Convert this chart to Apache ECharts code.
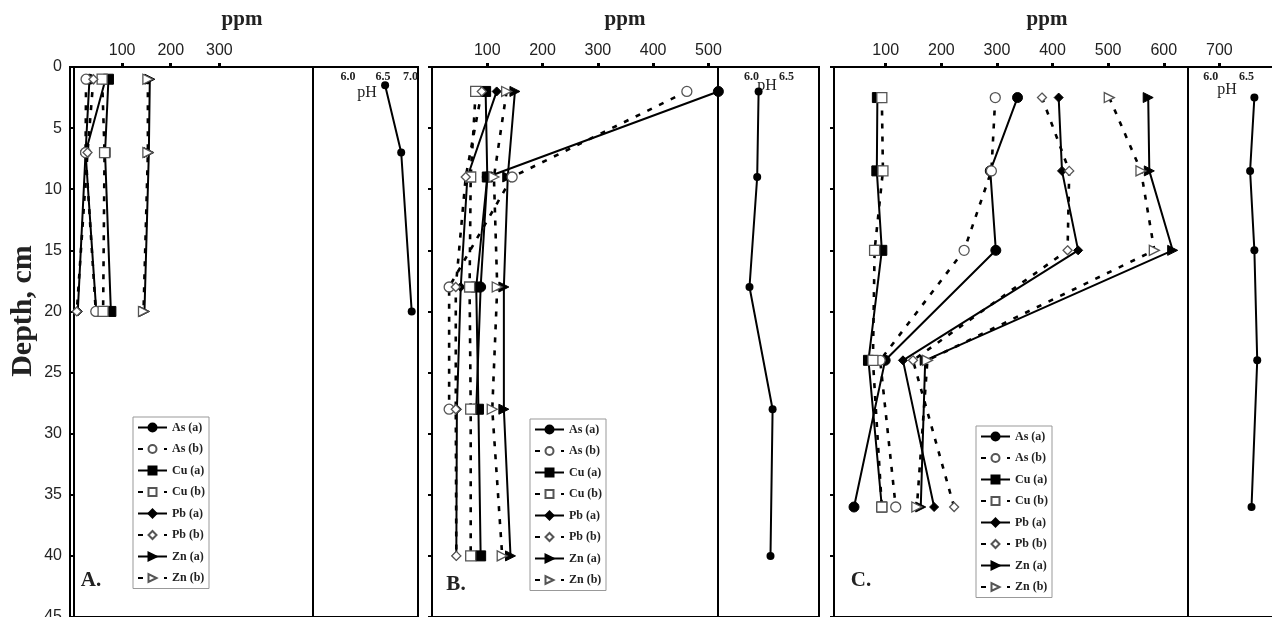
<!DOCTYPE html>
<html><head><meta charset="utf-8">
<script src="https://cdn.jsdelivr.net/npm/echarts@6/dist/echarts.min.js"></script>
<style>html,body{margin:0;padding:0;background:#fff}#c{width:1272px;height:617px}</style>
</head><body><div id="c"></div>
<script>
// ---- categories / labels ----
const metalNames = ['As (a)', 'As (b)', 'Cu (a)', 'Cu (b)', 'Pb (a)', 'Pb (b)', 'Zn (a)', 'Zn (b)'];
const depthTicks = [0, 5, 10, 15, 20, 25, 30, 35, 40, 45];
const ppmTicksA = [100, 200, 300];
const ppmTicksB = [100, 200, 300, 400, 500];
const ppmTicksC = [100, 200, 300, 400, 500, 600, 700];
const phTicksA = [6.0, 6.5, 7.0];
const phTicksB = [6.0, 6.5];
const phTicksC = [6.0, 6.5];

// ---- Panel A ----
const depthA = [1, 7, 20];
const A_As_a = [33, 25, 47];
const A_As_b = [26, 25, 46];
const A_Cu_a = [72, 65, 77];
const A_Cu_b = [59, 64, 61];
const A_Pb_a = [66, 25, 9];
const A_Pb_b = [41, 29, 7];
const A_Zn_a = [157, 155, 146];
const A_Zn_b = [153, 153, 144];
const phDepthA = [1.5, 7, 20];
const A_pH = [6.53, 6.76, 6.91];

// ---- Panel B ----
const depthB = [2, 9, 18, 28, 40];
const B_As_a = [518, 100, 88, 80, null];
const B_As_b = [461, 145, 31, 31, null];
const B_Cu_a = [97, 100, 80, 84, 88];
const B_Cu_b = [79, 70, 68, 70, 70];
const B_Pb_a = [117, 64, 52, 45, 44];
const B_Pb_b = [90, 61, 43, 43, 44];
const B_Zn_a = [150, 137, 130, 130, 142];
const B_Zn_b = [135, 112, 118, 109, 127];
const phDepthB = [2, 9, 18, 28, 40];
const B_pH = [6.10, 6.08, 5.97, 6.30, 6.27];

// ---- Panel C ----
const depthC = [2.5, 8.5, 15, 24, 36];
const C_As_a = [337, 288, 298, 99, 43];
const C_As_b = [297, 290, 241, 90, 118];
const C_Cu_a = [85, 84, 93, 69, 93];
const C_Cu_b = [93, 95, 80, 77, 93];
const C_Pb_a = [411, 417, 446, 131, 187];
const C_Pb_b = [381, 430, 427, 149, 223];
const C_Zn_a = [572, 574, 616, 171, 163];
const C_Zn_b = [502, 559, 583, 175, 156];
const phDepthC = [2.5, 8.5, 15, 24, 36];
const C_pH = [6.61, 6.55, 6.61, 6.65, 6.57];

const SERIF = '"Liberation Serif", "DejaVu Serif", serif';
const SANS = '"Liberation Sans", Arial, sans-serif';

const symbolFor = {As: 'circle', Cu: 'rect', Pb: 'diamond', Zn: 'triangle'};
const sizeFor = {As: 10, Cu: 10, Pb: 9, Zn: 10};

function pairs(xs, ys) {
  const out = [];
  xs.forEach((x, i) => { if (x !== null) out.push([x, ys[i]]); });
  return out;
}

function metalSeries(name, xs, ys, axisIdx) {
  const el = name.slice(0, 2);
  const filled = name.indexOf('(a)') >= 0;
  return {
    type: 'line', name: name, xAxisIndex: axisIdx, yAxisIndex: axisIdx,
    data: pairs(xs, ys),
    symbol: symbolFor[el], symbolSize: sizeFor[el],
    symbolRotate: el === 'Zn' ? -90 : 0,
    showAllSymbol: true,
    lineStyle: {color: '#000', width: filled ? 2 : 2.6, type: filled ? 'solid' : [5, 8]},
    itemStyle: filled ? {color: '#000', borderColor: '#000', borderWidth: 1}
                      : {color: '#fff', borderColor: '#555', borderWidth: 1.3},
    emphasis: {disabled: true},
    z: filled ? 3 : 4
  };
}

function phSeries(xs, ys, axisIdx) {
  return {
    type: 'line', name: 'pH', xAxisIndex: axisIdx, yAxisIndex: axisIdx,
    data: pairs(xs, ys), symbol: 'circle', symbolSize: 8,
    lineStyle: {color: '#000', width: 2}, itemStyle: {color: '#000'},
    emphasis: {disabled: true}
  };
}

const panels = [
  {depth: depthA, vals: [A_As_a, A_As_b, A_Cu_a, A_Cu_b, A_Pb_a, A_Pb_b, A_Zn_a, A_Zn_b], phD: phDepthA, ph: A_pH},
  {depth: depthB, vals: [B_As_a, B_As_b, B_Cu_a, B_Cu_b, B_Pb_a, B_Pb_b, B_Zn_a, B_Zn_b], phD: phDepthB, ph: B_pH},
  {depth: depthC, vals: [C_As_a, C_As_b, C_Cu_a, C_Cu_b, C_Pb_a, C_Pb_b, C_Zn_a, C_Zn_b], phD: phDepthC, ph: C_pH}
];

const series = [];
panels.forEach((p, k) => {
  p.vals.forEach((v, i) => series.push(metalSeries(metalNames[i], v, p.depth, 2 * k)));
  series.push(phSeries(p.ph, p.phD, 2 * k + 1));
});

const gridBox = (l, w) => ({left: l, top: 67, width: w, height: 550, show: true,
  borderColor: '#000', borderWidth: 2, backgroundColor: 'transparent',
  containLabel: false, outerBoundsMode: 'none'});
const grids = [
  gridBox(70, 348), gridBox(313, 105),
  gridBox(432, 387), gridBox(718, 101),
  gridBox(834, 446), gridBox(1188, 92)
];

function ppmAxis(g, min, max, ticks) {
  return {gridIndex: g, type: 'value', position: 'top', min: min, max: max,
    axisLine: {show: true, lineStyle: {color: '#000', width: 2}},
    axisTick: {show: true, customValues: ticks, length: 4, lineStyle: {color: '#000', width: 3}},
    axisLabel: {show: true, customValues: ticks, fontFamily: SANS, fontSize: 16, color: '#222', margin: 8},
    splitLine: {show: false}};
}
function phAxis(g, min, max, ticks) {
  return {gridIndex: g, type: 'value', position: 'top', min: min, max: max,
    axisLine: {show: false}, axisTick: {show: false},
    axisLabel: {show: true, inside: true, customValues: ticks, formatter: v => Number(v).toFixed(1),
      fontFamily: SERIF, fontWeight: 'bold', fontSize: 12, color: '#222', margin: 4,
      alignMaxLabel: g === 1 ? 'right' : null},
    splitLine: {show: false}};
}
function depthAxis(g, showLabels) {
  return {gridIndex: g, type: 'value', inverse: true, min: 0, max: 45, interval: 5,
    axisLine: {show: true, lineStyle: {color: '#000', width: 2}},
    axisTick: {show: true, length: 4, lineStyle: {color: '#000', width: 2}},
    axisLabel: {show: showLabels, fontFamily: SANS, fontSize: 16, color: '#222', margin: 8,
      customValues: depthTicks},
    splitLine: {show: false}};
}
function hiddenDepth(g) {
  return {gridIndex: g, type: 'value', inverse: true, min: 0, max: 45, show: false};
}

const xAxes = [
  ppmAxis(0, -7, 708, ppmTicksA), phAxis(1, 5.5, 7.0, phTicksA),
  ppmAxis(2, 0, 700, ppmTicksB), phAxis(3, 5.52, 6.963, phTicksB),
  ppmAxis(4, 7, 809, ppmTicksC), phAxis(5, 5.68, 6.969, phTicksC)
];
const yAxes = [
  depthAxis(0, true), hiddenDepth(1),
  depthAxis(2, false), hiddenDepth(3),
  depthAxis(4, false), hiddenDepth(5)
];

function legendAt(l, t) {
  return {data: metalNames, orient: 'vertical', left: l, top: t,
    itemWidth: 29, itemHeight: 10, itemGap: 8.5, padding: [4, 4, 4, 4],
    borderColor: '#999', borderWidth: 1, selectedMode: false,
    textStyle: {fontFamily: SERIF, fontWeight: 'bold', fontSize: 12, color: '#222', lineHeight: 13}};
}

function txt(x, y, s, font, extra) {
  return Object.assign({type: 'text', x: x, y: y, silent: true,
    style: {text: s, font: font, fill: '#222', align: 'center', verticalAlign: 'middle'}}, extra || {});
}

const graphics = [
  txt(242, 20, 'ppm', 'bold 21px ' + SERIF),
  txt(625, 20, 'ppm', 'bold 21px ' + SERIF),
  txt(1047, 20, 'ppm', 'bold 21px ' + SERIF),
  txt(23, 311, 'Depth, cm', 'bold 30px ' + SERIF, {rotation: Math.PI / 2}),
  txt(367, 93, 'pH', '16px ' + SERIF),
  txt(767, 86, 'pH', '16px ' + SERIF),
  txt(1227, 90, 'pH', '16px ' + SERIF),
  txt(91, 581, 'A.', 'bold 21px ' + SERIF),
  txt(456, 585, 'B.', 'bold 21px ' + SERIF),
  txt(861, 581, 'C.', 'bold 21px ' + SERIF)
];

const chart = echarts.init(document.getElementById('c'), null, {renderer: 'canvas'});
chart.setOption({
  backgroundColor: '#fff',
  animation: false,
  grid: grids,
  xAxis: xAxes,
  yAxis: yAxes,
  legend: [legendAt(133, 417), legendAt(530, 419), legendAt(976, 426)],
  graphic: graphics,
  series: series
});
</script>
</body></html>
